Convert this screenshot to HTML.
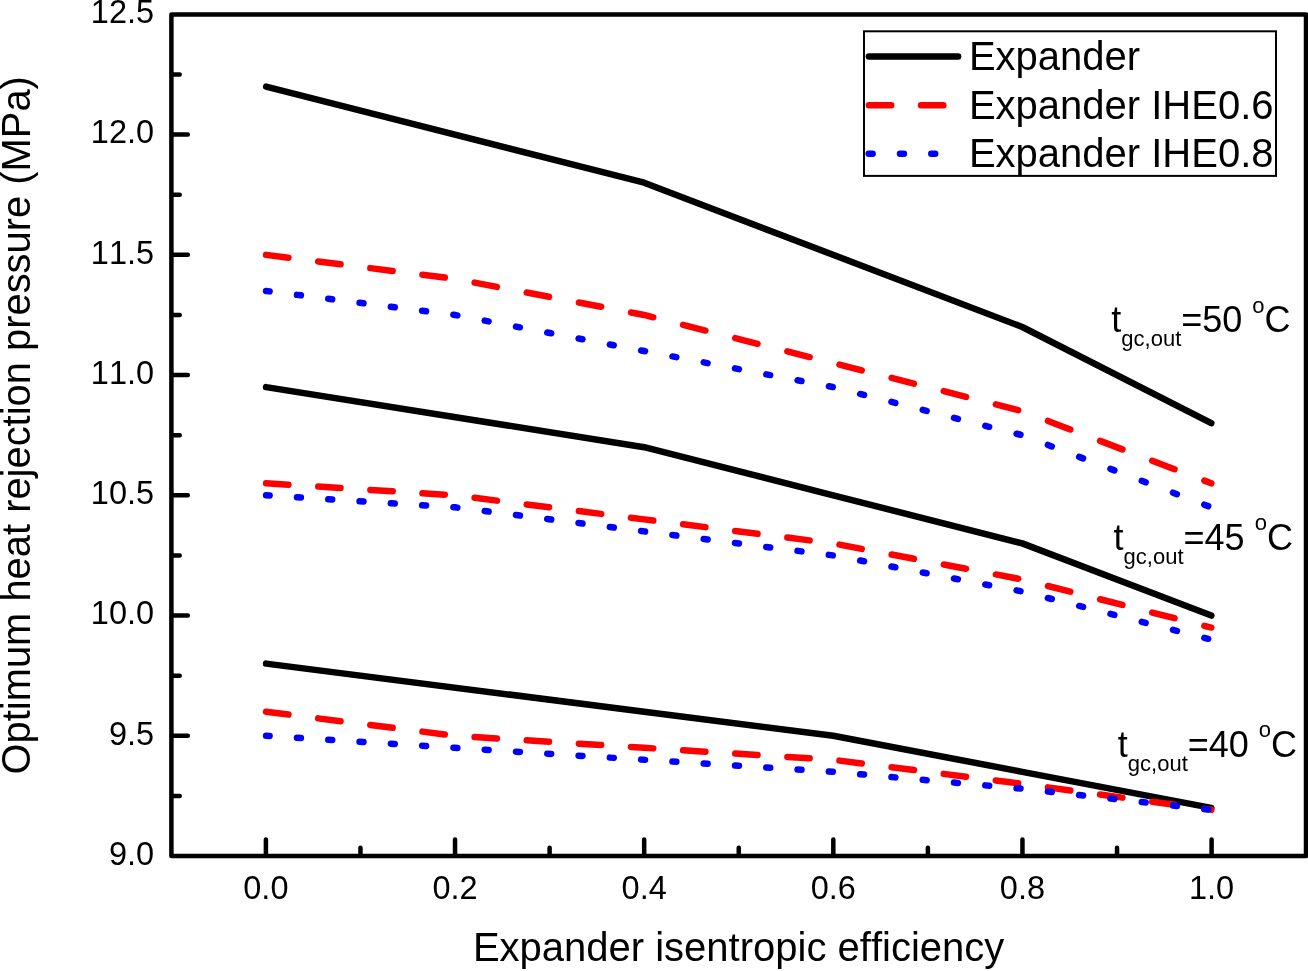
<!DOCTYPE html>
<html><head><meta charset="utf-8"><title>Optimum heat rejection pressure</title>
<style>
html,body{margin:0;padding:0;background:#fff;}
body{width:1308px;height:971px;overflow:hidden;}
svg{display:block;}
text{font-kerning:none;font-family:"Liberation Sans",Arial,sans-serif;fill:#000;}
.tick{font-size:32.5px;font-kerning:none;}
.frame{fill:none;stroke:#000;stroke-width:4.5;stroke-linejoin:round;}
.tk{stroke:#000;stroke-width:4.5;stroke-linecap:round;fill:none;}
.k{fill:none;stroke:#000;stroke-width:6.5;stroke-linecap:round;stroke-linejoin:round;}
.r{fill:none;stroke:#f00;stroke-width:6.5;stroke-linecap:round;stroke-linejoin:round;}
.b{fill:none;stroke:#00f;stroke-width:6.5;stroke-linecap:round;stroke-linejoin:round;}
</style></head><body>
<svg width="1308" height="971" viewBox="0 0 1308 971">
<rect width="1308" height="971" fill="#fff"/>

<path class="k" d="M266.10,86.53 L644.18,182.71 L1022.26,326.99 L1211.30,423.17"/>
<path class="k" d="M266.10,387.10 L644.18,447.22 L833.22,495.31 L1022.26,543.40 L1211.30,615.54"/>
<path class="k" d="M266.10,663.63 L644.18,711.72 L833.22,735.77 L1022.26,771.84 L1211.30,807.91"/>
<path class="r" d="M266.10,254.85 L288.40,257.69 M318.23,261.48 L340.53,264.32 M370.35,268.11 L392.65,270.95 M422.48,274.74 L444.78,277.58 M474.60,282.61 L496.90,286.86 M526.73,292.55 L549.02,296.81 M578.85,302.50 L601.15,306.75 M630.98,312.45 L644.18,314.97 L653.27,317.28 M683.10,324.87 L705.40,330.54 M735.23,338.13 L757.52,343.80 M787.35,351.39 L809.65,357.06 M839.48,364.65 L861.77,370.32 M891.60,377.91 L913.90,383.58 M943.73,391.17 L966.02,396.84 M995.85,404.43 L1018.15,410.10 M1047.97,420.96 L1070.27,429.47 M1100.10,440.85 L1122.40,449.36 M1152.22,460.74 L1174.52,469.25 M1204.35,480.63 L1211.30,483.29"/>
<path class="r" d="M266.10,483.29 L288.40,484.71 M318.23,486.60 L340.53,488.02 M370.35,489.92 L392.65,491.34 M422.48,493.23 L444.78,494.65 M474.60,497.79 L496.90,500.62 M526.73,504.42 L549.02,507.25 M578.85,511.05 L601.15,513.88 M630.98,517.68 L644.18,519.36 L653.27,520.51 M683.10,524.31 L705.40,527.14 M735.23,530.94 L757.52,533.77 M787.35,537.57 L809.65,540.40 M839.48,544.60 L861.77,548.85 M891.60,554.54 L913.90,558.80 M943.73,564.49 L966.02,568.74 M995.85,574.43 L1018.15,578.69 M1047.97,586.01 L1070.27,591.69 M1100.10,599.27 L1122.40,604.95 M1152.22,612.53 L1174.52,618.21 M1204.35,625.79 L1211.30,627.56"/>
<path class="r" d="M266.10,711.72 L288.40,714.56 M318.23,718.35 L340.53,721.19 M370.35,724.98 L392.65,727.82 M422.48,731.61 L444.78,734.45 M474.60,737.01 L496.90,738.43 M526.73,740.32 L549.02,741.74 M578.85,743.64 L601.15,745.06 M630.98,746.95 L644.18,747.79 L653.27,748.37 M683.10,750.27 L705.40,751.69 M735.23,753.58 L757.52,755.00 M787.35,756.90 L809.65,758.32 M839.48,760.61 L861.77,763.45 M891.60,767.24 L913.90,770.08 M943.73,773.87 L966.02,776.71 M995.85,780.50 L1018.15,783.34 M1047.97,787.39 L1070.27,790.46 M1100.10,794.56 L1122.40,797.62 M1152.22,801.72 L1174.52,804.78 M1204.35,808.88 L1211.30,809.83"/>
<path class="b" d="M266.10,290.92 L269.60,291.36 M296.99,294.85 L300.89,295.34 M328.27,298.83 L332.17,299.32 M359.56,302.81 L363.46,303.30 M390.85,306.79 L394.75,307.28 M422.14,310.77 L426.04,311.26 M453.42,314.75 L455.14,314.97 L457.32,315.38 M484.71,320.61 L488.61,321.35 M516.00,326.58 L519.90,327.32 M547.28,332.55 L551.18,333.29 M578.57,338.52 L582.47,339.26 M609.86,344.49 L613.76,345.23 M641.14,350.45 L644.18,351.03 L645.04,351.20 M672.43,356.42 L676.33,357.17 M703.72,362.39 L707.62,363.14 M735.01,368.36 L738.91,369.11 M766.29,374.33 L770.19,375.08 M797.58,380.30 L801.48,381.05 M828.87,386.27 L832.77,387.02 M860.15,393.95 L864.05,394.95 M891.44,401.91 L895.34,402.91 M922.73,409.87 L926.63,410.87 M954.01,417.83 L957.91,418.83 M985.30,425.79 L989.20,426.78 M1016.59,433.75 L1020.49,434.74 M1047.88,444.97 L1051.78,446.46 M1079.16,456.91 L1083.06,458.40 M1110.45,468.85 L1114.35,470.34 M1141.74,480.79 L1145.64,482.28 M1173.02,492.73 L1176.92,494.21 M1204.31,504.67 L1208.21,506.15"/>
<path class="b" d="M266.10,495.31 L269.60,495.53 M296.99,497.27 L300.89,497.52 M328.27,499.26 L332.17,499.51 M359.56,501.25 L363.46,501.50 M390.85,503.24 L394.75,503.49 M422.14,505.23 L426.04,505.48 M453.42,507.22 L455.14,507.33 L457.32,507.61 M484.71,511.09 L488.61,511.59 M516.00,515.07 L519.90,515.57 M547.28,519.05 L551.18,519.55 M578.57,523.03 L582.47,523.53 M609.86,527.01 L613.76,527.51 M641.14,530.99 L644.18,531.38 L645.04,531.49 M672.43,534.97 L676.33,535.47 M703.72,538.95 L707.62,539.45 M735.01,542.93 L738.91,543.43 M766.29,546.91 L770.19,547.41 M797.58,550.89 L801.48,551.39 M828.87,554.87 L832.77,555.37 M860.15,560.56 L864.05,561.31 M891.44,566.53 L895.34,567.28 M922.73,572.50 L926.63,573.25 M954.01,578.47 L957.91,579.22 M985.30,584.44 L989.20,585.19 M1016.59,590.41 L1020.49,591.16 M1047.88,598.01 L1051.78,599.00 M1079.16,605.97 L1083.06,606.96 M1110.45,613.93 L1114.35,614.92 M1141.74,621.89 L1145.64,622.88 M1173.02,629.85 L1176.92,630.84 M1204.31,637.81 L1208.21,638.80"/>
<path class="b" d="M266.10,735.77 L269.60,735.99 M296.99,737.73 L300.89,737.98 M328.27,739.72 L332.17,739.97 M359.56,741.71 L363.46,741.96 M390.85,743.70 L394.75,743.95 M422.14,745.69 L426.04,745.94 M453.42,747.68 L455.14,747.79 L457.32,747.93 M484.71,749.67 L488.61,749.92 M516.00,751.66 L519.90,751.91 M547.28,753.65 L551.18,753.90 M578.57,755.64 L582.47,755.89 M609.86,757.63 L613.76,757.88 M641.14,759.62 L644.18,759.82 L645.04,759.87 M672.43,761.61 L676.33,761.86 M703.72,763.60 L707.62,763.85 M735.01,765.59 L738.91,765.84 M766.29,767.58 L770.19,767.83 M797.58,769.57 L801.48,769.82 M828.87,771.56 L832.77,771.81 M860.15,774.24 L864.05,774.58 M891.44,777.02 L895.34,777.37 M922.73,779.81 L926.63,780.16 M954.01,782.59 L957.91,782.94 M985.30,785.38 L989.20,785.73 M1016.59,788.17 L1020.49,788.51 M1047.88,791.54 L1051.78,791.98 M1079.16,795.04 L1083.06,795.48 M1110.45,798.54 L1114.35,798.98 M1141.74,802.04 L1145.64,802.48 M1173.02,805.55 L1176.92,805.98 M1204.31,809.05 L1208.21,809.49"/>
<rect class="frame" x="171.4" y="14.4" width="1134.6" height="841.6"/>
<path class="tk" d="M172.4,795.88h7.300000000000001 M172.4,735.77h15.399999999999999 M172.4,675.65h7.300000000000001 M172.4,615.54h15.399999999999999 M172.4,555.42h7.300000000000001 M172.4,495.31h15.399999999999999 M172.4,435.19h7.300000000000001 M172.4,375.08h15.399999999999999 M172.4,314.97h7.300000000000001 M172.4,254.85h15.399999999999999 M172.4,194.74h7.300000000000001 M172.4,134.62h15.399999999999999 M172.4,74.50h7.300000000000001 M265.90,855.0v-15.399999999999999 M360.47,855.0v-7.300000000000001 M455.04,855.0v-15.399999999999999 M549.61,855.0v-7.300000000000001 M644.18,855.0v-15.399999999999999 M738.75,855.0v-7.300000000000001 M833.32,855.0v-15.399999999999999 M927.89,855.0v-7.300000000000001 M1022.46,855.0v-15.399999999999999 M1117.03,855.0v-7.300000000000001 M1211.60,855.0v-15.399999999999999"/>
<text class="tick" x="154.1" y="864.80" text-anchor="end">9.0</text>
<text class="tick" x="154.1" y="744.57" text-anchor="end">9.5</text>
<text class="tick" x="154.1" y="624.34" text-anchor="end">10.0</text>
<text class="tick" x="154.1" y="504.11" text-anchor="end">10.5</text>
<text class="tick" x="154.1" y="383.88" text-anchor="end">11.0</text>
<text class="tick" x="154.1" y="263.65" text-anchor="end">11.5</text>
<text class="tick" x="154.1" y="143.42" text-anchor="end">12.0</text>
<text class="tick" x="154.1" y="23.19" text-anchor="end">12.5</text>
<text class="tick" x="265.90" y="899.3" text-anchor="middle">0.0</text>
<text class="tick" x="455.04" y="899.3" text-anchor="middle">0.2</text>
<text class="tick" x="644.18" y="899.3" text-anchor="middle">0.4</text>
<text class="tick" x="833.32" y="899.3" text-anchor="middle">0.6</text>
<text class="tick" x="1022.46" y="899.3" text-anchor="middle">0.8</text>
<text class="tick" x="1211.60" y="899.3" text-anchor="middle">1.0</text>
<text id="xt" x="738.6" y="961.2" text-anchor="middle" font-size="40">Expander isentropic efficiency</text>
<text id="yt" transform="translate(30,425.3) rotate(-90)" text-anchor="middle" font-size="39.9">Optimum heat rejection pressure (MPa)</text>
<rect x="864" y="31.3" width="412" height="144.6" fill="#fff" stroke="#000" stroke-width="2"/>
<path class="k" d="M868.9,56.45H958.1"/>
<path class="r" d="M868.9,105.35h22.3 M921.025,105.35h22.3"/>
<path class="b" d="M868.7,153.65h3.9 M899.9870000000001,153.65h3.9 M931.274,153.65h3.9"/>
<text class="lg" id="lg0" x="968.9" y="69.9" font-size="40">Expander</text>
<text class="lg" id="lg1" x="968.9" y="118.9" font-size="40">Expander IHE0.6</text>
<text class="lg" id="lg2" x="968.9" y="167.0" font-size="40">Expander IHE0.8</text>
<text id="an0" x="1111.3" y="332.1" font-size="36">t<tspan font-size="22" dy="14">gc,out</tspan><tspan dy="-14">=50 </tspan><tspan font-size="22" dy="-19.3">o</tspan><tspan dy="19.3">C</tspan></text>
<text id="an1" x="1113.6" y="549.7" font-size="36">t<tspan font-size="22" dy="14">gc,out</tspan><tspan dy="-14">=45 </tspan><tspan font-size="22" dy="-19.3">o</tspan><tspan dy="19.3">C</tspan></text>
<text id="an2" x="1117.8" y="756.6" font-size="36">t<tspan font-size="22" dy="14">gc,out</tspan><tspan dy="-14">=40 </tspan><tspan font-size="22" dy="-19.3">o</tspan><tspan dy="19.3">C</tspan></text>
</svg></body></html>
